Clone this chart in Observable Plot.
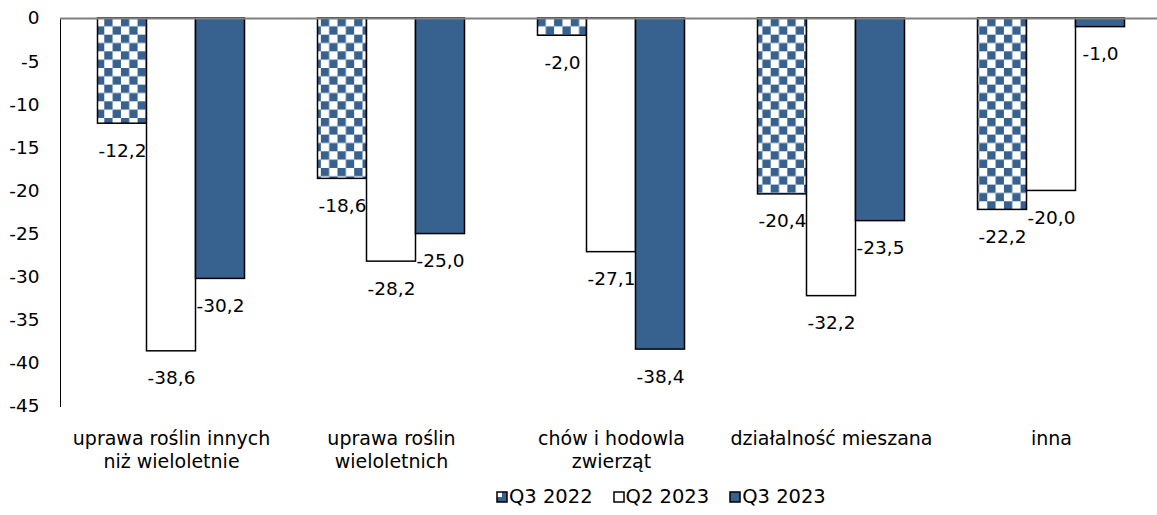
<!DOCTYPE html>
<html>
<head>
<meta charset="utf-8">
<script src="https://cdn.jsdelivr.net/npm/d3@7"></script>
<script src="https://cdn.jsdelivr.net/npm/@observablehq/plot@0.6"></script>
<style>
  html, body { margin: 0; padding: 0; background: #fff; }
  body { width: 1157px; height: 515px; position: relative; overflow: hidden; font-family: "DejaVu Sans", sans-serif; }
  #legend { position: absolute; left: 496px; top: 485px; display: flex; align-items: center; font-size: 19.5px; color: #000; white-space: nowrap; }
  #legend .item { display: flex; align-items: center; margin-right: 20px; }
  #legend svg { margin-right: 1px; }
</style>
</head>
<body>
<div id="chart"></div>
<div id="legend"></div>
<script>
const categories = ["uprawa roślin innych\nniż wieloletnie", "uprawa roślin\nwieloletnich", "chów i hodowla\nzwierząt", "działalność mieszana", "inna"];
const seriesNames = ["Q3 2022", "Q2 2023", "Q3 2023"];
const q3_2022 = [-12.2, -18.6, -2.0, -20.4, -22.2];
const q2_2023 = [-38.6, -28.2, -27.1, -32.2, -20.0];
const q3_2023 = [-30.2, -25.0, -38.4, -23.5, -1.0];
const yTicks = [0, -5, -10, -15, -20, -25, -30, -35, -40, -45];

const BLUE = "#37618F";
const series = [q3_2022, q2_2023, q3_2023];
const fills = ["url(#chk)", "#ffffff", BLUE];
const barW = 49;
const offsets = [-barW, 0, barW];
const fmt = v => v.toFixed(1).replace(".", ",");

const marks = [];
series.forEach((vals, i) => {
  const rows = categories.map((c, j) => ({cat: c, value: vals[j]}));
  marks.push(Plot.barY(rows, {
    x: "cat", y: "value", dx: offsets[i],
    insetLeft: (220 - barW) / 2, insetRight: (220 - barW) / 2,
    fill: fills[i], stroke: "#000", strokeWidth: 1.5
  }));
  marks.push(Plot.text(rows, {
    x: "cat", y: "value", dx: offsets[i], dy: 27,
    text: d => fmt(d.value), fill: "#000", fontSize: 18.5
  }));
});

const chart = Plot.plot({
  width: 1157,
  height: 478,
  marginLeft: 60,
  marginRight: 0,
  marginTop: 18,
  marginBottom: 72,
  style: {fontFamily: "DejaVu Sans, sans-serif", fontSize: "18px", color: "#000", background: "#fff"},
  x: {domain: categories, range: [61, 1161], padding: 0, label: null},
  y: {domain: [-45, 0], label: null},
  marks: [
    Plot.axisY({ticks: yTicks, tickSize: 0, tickPadding: 21, fontSize: 18.5, tickFormat: d => String(d)}),
    Plot.axisX({tickSize: 0, tickPadding: 23, fontSize: 19, lineHeight: 1.17}),
    Plot.frame({anchor: "left", stroke: "#000", strokeWidth: 1}),
    ...marks,
    Plot.ruleY([0], {stroke: "#808080", strokeWidth: 2})
  ]
});

// checker pattern
const svg = d3.select(chart);
const defs = svg.insert("defs", ":first-child");
const pat = defs.append("pattern").attr("id", "chk").attr("patternUnits", "userSpaceOnUse")
  .attr("width", 16.66).attr("height", 16.66).attr("x", 103.3).attr("y", 18);
pat.append("rect").attr("width", 16.66).attr("height", 16.66).attr("fill", "#fff");
pat.append("rect").attr("width", 8.33).attr("height", 8.33).attr("fill", BLUE);
pat.append("rect").attr("x", 8.33).attr("y", 8.33).attr("width", 8.33).attr("height", 8.33).attr("fill", BLUE);
document.getElementById("chart").appendChild(chart);

// legend
const legend = d3.select("#legend");
seriesNames.forEach((name, i) => {
  const item = legend.append("div").attr("class", "item");
  const s = item.append("svg").attr("width", 12).attr("height", 12);
  if (i === 0) {
    s.append("rect").attr("x", 1).attr("y", 1).attr("width", 10).attr("height", 10).attr("fill", BLUE);
    s.append("rect").attr("x", 1).attr("y", 1).attr("width", 5).attr("height", 5).attr("fill", "#fff");
    s.append("rect").attr("x", 1).attr("y", 1).attr("width", 10).attr("height", 10).attr("fill", "none").attr("stroke", "#000").attr("stroke-width", 1.5);
  } else {
    s.append("rect").attr("x", 1).attr("y", 1).attr("width", 10).attr("height", 10)
      .attr("fill", i === 1 ? "#fff" : BLUE).attr("stroke", "#000").attr("stroke-width", 1.5);
  }
  item.append("span").text(name);
});
</script>
</body>
</html>
